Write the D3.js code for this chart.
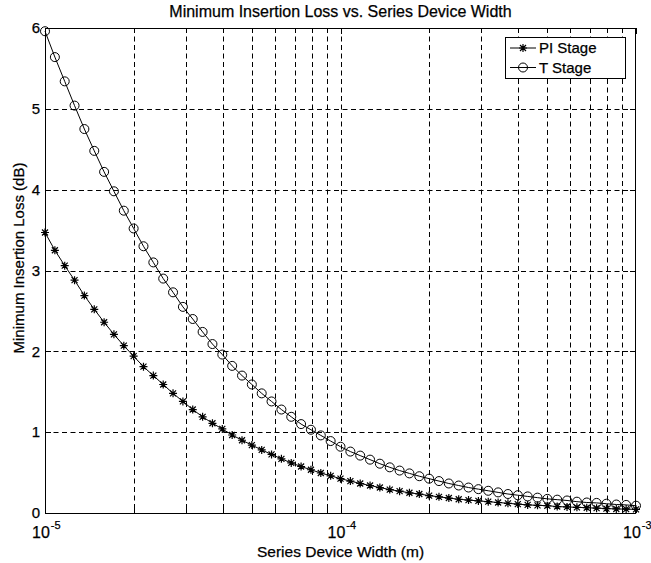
<!DOCTYPE html>
<html><head><meta charset="utf-8">
<script src="https://cdn.jsdelivr.net/npm/d3@7"></script>
<style>
html,body{margin:0;padding:0;background:#fff;}
svg text{font-family:"Liberation Sans",Arial,Helvetica,sans-serif;fill:#000;stroke:#000;stroke-width:0.25px;}
</style></head>
<body>
<svg id="chart" width="651" height="563"></svg>
<script>
// ---- data ----
const title = "Minimum Insertion Loss vs. Series Device Width";
const xLabel = "Series Device Width (m)";
const yLabel = "Minimum Insertion Loss (dB)";
const seriesNames = ["PI Stage", "T Stage"];
const widths = [
  1.000e-5,1.080e-5,1.166e-5,1.259e-5,1.359e-5,1.468e-5,1.585e-5,1.711e-5,1.848e-5,1.995e-5,
  2.154e-5,2.326e-5,2.512e-5,2.712e-5,2.929e-5,3.162e-5,3.415e-5,3.687e-5,3.981e-5,4.299e-5,
  4.642e-5,5.012e-5,5.412e-5,5.843e-5,6.310e-5,6.813e-5,7.356e-5,7.943e-5,8.577e-5,9.261e-5,
  1.000e-4,1.080e-4,1.166e-4,1.259e-4,1.359e-4,1.468e-4,1.585e-4,1.711e-4,1.848e-4,1.995e-4,
  2.154e-4,2.326e-4,2.512e-4,2.712e-4,2.929e-4,3.162e-4,3.415e-4,3.687e-4,3.981e-4,4.299e-4,
  4.642e-4,5.012e-4,5.412e-4,5.843e-4,6.310e-4,6.813e-4,7.356e-4,7.943e-4,8.577e-4,9.261e-4,
  1.000e-3];
const piStage = [
  3.47,3.25,3.06,2.88,2.69,2.52,2.36,2.21,2.07,1.94,
  1.81,1.70,1.59,1.48,1.38,1.28,1.19,1.11,1.04,0.965,
  0.90,0.84,0.78,0.725,0.67,0.62,0.575,0.535,0.495,0.46,
  0.425,0.395,0.365,0.34,0.315,0.29,0.27,0.25,0.235,0.215,
  0.20,0.185,0.17,0.16,0.15,0.14,0.13,0.12,0.11,0.10,
  0.095,0.09,0.08,0.075,0.07,0.065,0.06,0.055,0.05,0.048,
  0.045];
const tStage = [
  5.96,5.64,5.34,5.04,4.75,4.48,4.22,3.98,3.74,3.52,
  3.30,3.10,2.90,2.73,2.55,2.40,2.24,2.09,1.96,1.82,
  1.70,1.59,1.48,1.38,1.28,1.19,1.10,1.03,0.96,0.89,
  0.82,0.76,0.71,0.66,0.61,0.565,0.525,0.49,0.455,0.425,
  0.395,0.365,0.34,0.315,0.295,0.275,0.255,0.235,0.22,0.205,
  0.19,0.175,0.165,0.155,0.14,0.13,0.125,0.115,0.105,0.10,
  0.09];
const yTicks = [0,1,2,3,4,5,6];
const xMajorTicks = [1e-5,1e-4,1e-3];
const xMajorExps = ["-5","-4","-3"];
const xMinorTicks = [2e-5,3e-5,4e-5,5e-5,6e-5,7e-5,8e-5,9e-5,2e-4,3e-4,4e-4,5e-4,6e-4,7e-4,8e-4,9e-4];

// ---- layout ----
const L = 45, R = 636, T = 28, B = 513;
const svg = d3.select("#chart");
const x = d3.scaleLog().domain([1e-5,1e-3]).range([L,R]);
const y = d3.scaleLinear().domain([0,6]).range([B,T]);

// grid
const grid = svg.append("g").attr("stroke","#000").attr("stroke-width",1).attr("stroke-dasharray","5,3.5").attr("fill","none");
grid.selectAll("line.gy").data(yTicks.slice(1,-1)).enter().append("line")
  .attr("x1",L).attr("x2",R).attr("y1",d=>Math.round(y(d))+0.5).attr("y2",d=>Math.round(y(d))+0.5);
grid.selectAll("line.gx").data(xMinorTicks.concat([1e-4])).enter().append("line")
  .attr("x1",d=>Math.round(x(d))+0.5).attr("x2",d=>Math.round(x(d))+0.5).attr("y1",T).attr("y2",B);

// axes box
svg.append("rect").attr("x",L+0.5).attr("y",T+0.5).attr("width",R-L-1).attr("height",B-T)
  .attr("fill","none").attr("stroke","#000").attr("stroke-width",1);

// ticks (inward, all sides)
const tk = svg.append("g").attr("stroke","#000").attr("stroke-width",1);
yTicks.forEach(v=>{
  const yy = Math.round(y(v))+0.5;
  tk.append("line").attr("x1",L).attr("x2",L+6).attr("y1",yy).attr("y2",yy);
  tk.append("line").attr("x1",R-6).attr("x2",R).attr("y1",yy).attr("y2",yy);
});
xMajorTicks.forEach(v=>{
  const xx = Math.round(x(v))+0.5;
  tk.append("line").attr("x1",xx).attr("x2",xx).attr("y1",B).attr("y2",B-6);
  tk.append("line").attr("x1",xx).attr("x2",xx).attr("y1",T).attr("y2",T+6);
});
xMinorTicks.forEach(v=>{
  const xx = Math.round(x(v))+0.5;
  tk.append("line").attr("x1",xx).attr("x2",xx).attr("y1",B).attr("y2",B-4);
  tk.append("line").attr("x1",xx).attr("x2",xx).attr("y1",T).attr("y2",T+4);
});

// tick labels
svg.selectAll("text.yt").data(yTicks).enter().append("text")
  .attr("x",L-5).attr("y",d=>y(d)).attr("dy","0.35em").attr("text-anchor","end")
  .attr("font-size",15).text(d=>d);
xMajorTicks.forEach((v,i)=>{
  const t = svg.append("text").attr("x",x(v)-13).attr("y",538).attr("text-anchor","start").attr("font-size",16);
  t.append("tspan").text("10");
  t.append("tspan").attr("font-size",11).attr("dy",-9).attr("dx",1).text(xMajorExps[i]);
});

// labels
svg.append("text").attr("x",(L+R)/2).attr("y",17).attr("text-anchor","middle").attr("font-size",16).text(title);
svg.append("text").attr("x",(L+R)/2).attr("y",557).attr("text-anchor","middle").attr("font-size",15.5).text(xLabel);
svg.append("text").attr("transform","translate(24,258) rotate(-90)").attr("text-anchor","middle").attr("font-size",15).text(yLabel);

// series
const line = d3.line().x(d=>x(d[0])).y(d=>y(d[1]));
const piData = widths.map((w,i)=>[w,piStage[i]]);
const tData = widths.map((w,i)=>[w,tStage[i]]);
svg.append("path").datum(piData).attr("d",line).attr("fill","none").attr("stroke","#000").attr("stroke-width",1);
svg.append("path").datum(tData).attr("d",line).attr("fill","none").attr("stroke","#000").attr("stroke-width",1);

const starPath = "M-4,0H4M0,-4V4M-3,-3L3,3M-3,3L3,-3";
function star(g,cx,cy){ g.append("path").attr("d",starPath).attr("transform",`translate(${cx},${cy})`).attr("stroke","#000").attr("stroke-width",1.2).attr("fill","none"); }
function circ(g,cx,cy){ g.append("circle").attr("cx",cx).attr("cy",cy).attr("r",4.5).attr("stroke","#000").attr("stroke-width",1).attr("fill","none"); }
const mk = svg.append("g");
tData.forEach(d=>circ(mk,x(d[0]),y(d[1])));
piData.forEach(d=>star(mk,x(d[0]),y(d[1])));

// legend
const lg = svg.append("g");
lg.append("rect").attr("x",505.5).attr("y",37.5).attr("width",120).attr("height",41).attr("fill","#fff").attr("stroke","#000").attr("stroke-width",1);
[[48,star],[67.5,circ]].forEach((e,i)=>{
  lg.append("line").attr("x1",510).attr("x2",536).attr("y1",e[0]).attr("y2",e[0]).attr("stroke","#000").attr("stroke-width",1);
  e[1](lg,523,e[0]);
  lg.append("text").attr("x",539).attr("y",e[0]).attr("dy","0.35em").attr("font-size",15).text(seriesNames[i]);
});
</script>
</body></html>
